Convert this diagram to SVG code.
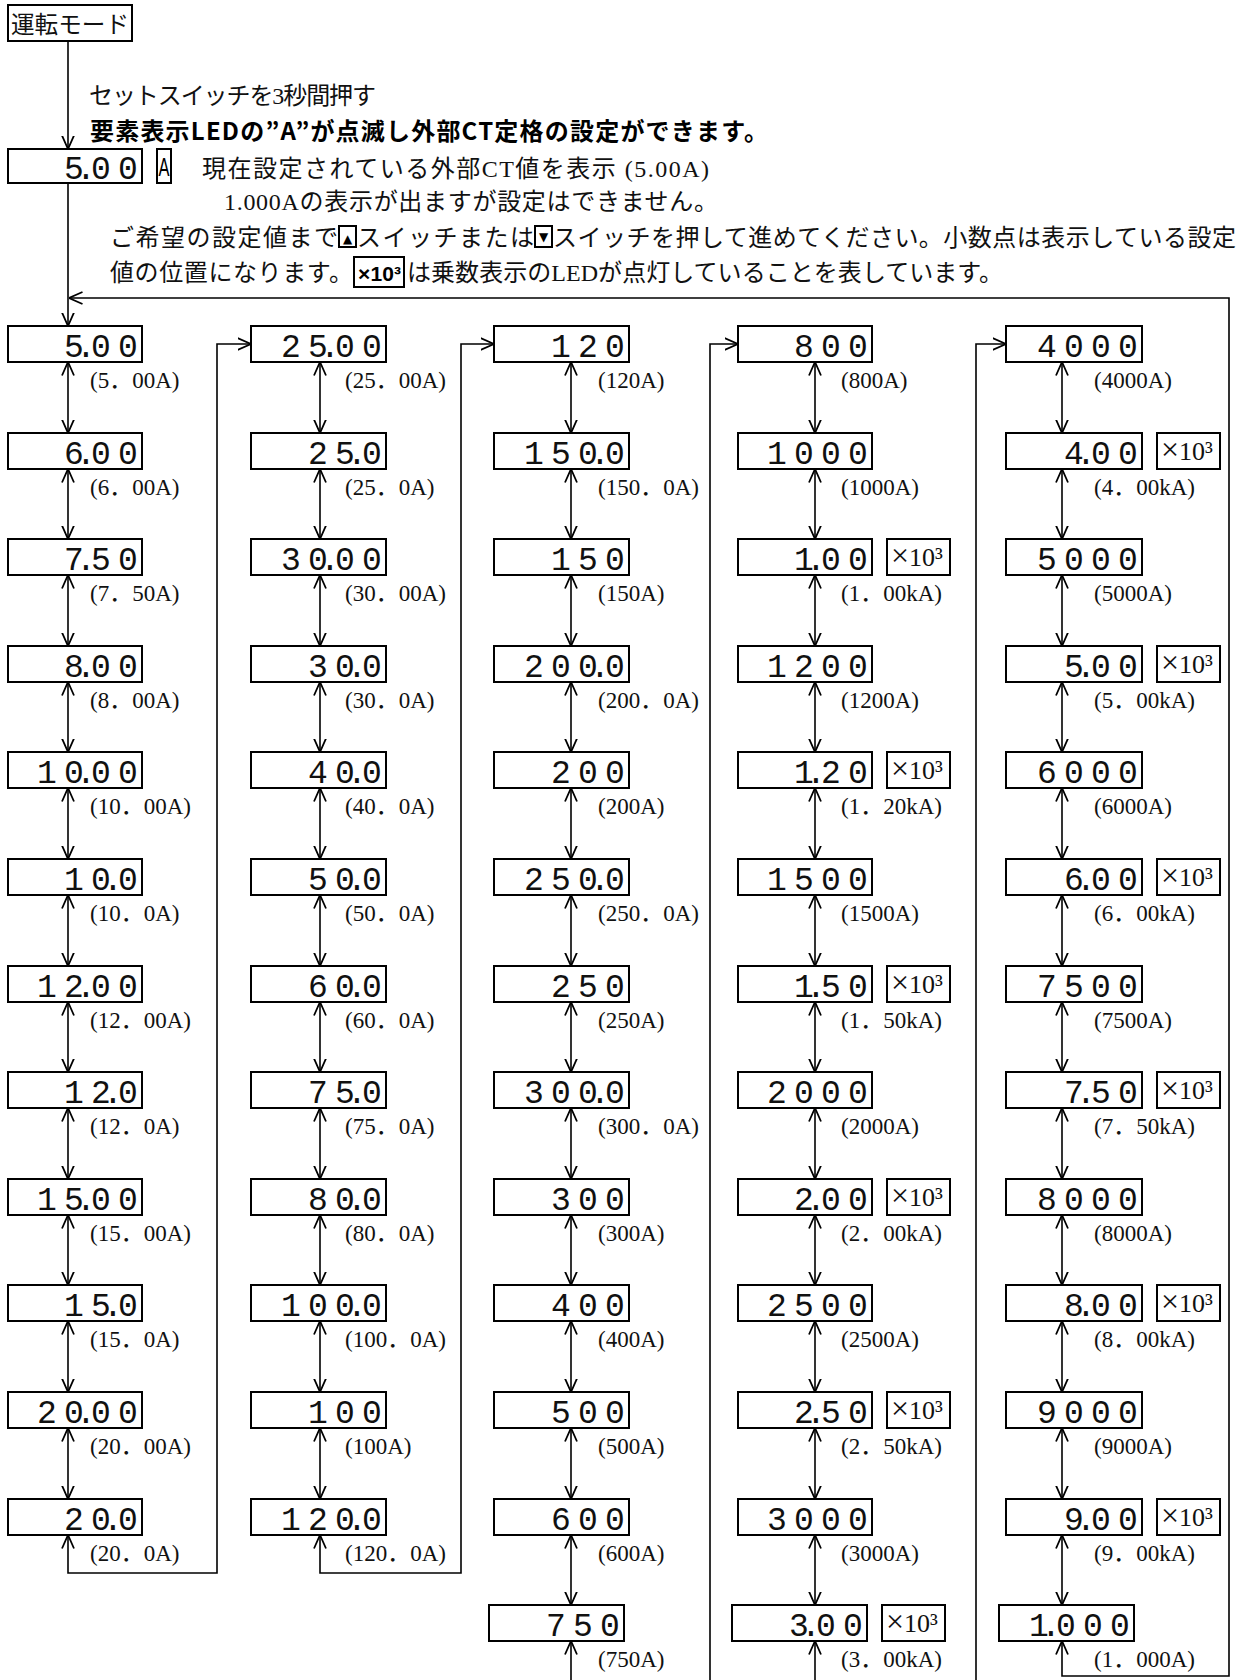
<svg xmlns="http://www.w3.org/2000/svg" width="1252" height="1680" viewBox="0 0 1252 1680">
<style>
.box{fill:#fff;stroke:#000;stroke-width:2}
.seg{font-family:"Liberation Mono","DejaVu Sans Mono",monospace;font-size:33px;text-anchor:middle;fill:#111}
.lbl{font-family:"Liberation Serif","Noto Sans CJK JP",serif;font-size:23px;fill:#111}
.mul{font-family:"Liberation Serif","Noto Sans CJK JP",serif;font-size:26px;fill:#111}
.x{font-size:32px}
.hdr{font-family:"Liberation Serif","Noto Sans CJK JP",serif;font-size:24px;fill:#111}
.bold{font-family:"Noto Sans CJK JP","Liberation Sans",sans-serif;font-weight:bold;font-size:24px;fill:#000}
.conn{fill:none;stroke:#000;stroke-width:1.6}
.arr{fill:none;stroke:#000;stroke-width:1.6;marker-start:url(#ah);marker-end:url(#ah)}
.end{marker-end:url(#ah)}
.start{marker-start:url(#ah)}
</style>
<defs>
<marker id="ah" viewBox="0 0 14 14" refX="13.5" refY="7" markerWidth="14" markerHeight="14" markerUnits="userSpaceOnUse" orient="auto-start-reverse">
<path d="M0,1 L13.5,7 L0,13" fill="none" stroke="#000" stroke-width="1.8"/>
</marker>
</defs>
<rect width="1252" height="1680" fill="#fff"/>

<g id="header">
<g id="n-run"><rect class="box" x="8" y="5" width="124" height="36"/><text class="hdr" x="11" y="33" textLength="118" lengthAdjust="spacingAndGlyphs">運転モード</text></g>
<text class="hdr" x="89" y="104" textLength="287">セットスイッチを3秒間押す</text>
<text class="bold" x="90" y="140" textLength="678">要素表示LEDの”A”が点滅し外部CT定格の設定ができます。</text>
<g id="n-set"><rect class="box" x="8" y="149" width="134" height="34"/><text class="seg" x="74 86 101 128" y="179">5.00</text>
<rect class="box" x="157" y="149" width="14" height="34"/><text x="164" y="176" font-family="Liberation Sans,sans-serif" font-size="26" text-anchor="middle" textLength="11" lengthAdjust="spacingAndGlyphs">A</text></g>
<text class="hdr" x="202" y="177" textLength="507">現在設定されている外部CT値を表示 (5.00A)</text>
<text class="hdr" x="224" y="210" textLength="494">1.000Aの表示が出ますが設定はできません。</text>
<text class="hdr" x="110" y="246" textLength="228">ご希望の設定値まで</text>
<rect class="box" x="339" y="226" width="17" height="21" stroke-width="1.5"/><text x="347.5" y="243" font-family="DejaVu Sans,sans-serif" font-size="12" text-anchor="middle">▲</text>
<text class="hdr" x="357" y="246" textLength="177">スイッチまたは</text>
<rect class="box" x="535" y="226" width="17" height="21" stroke-width="1.5"/><text x="543.5" y="241" font-family="DejaVu Sans,sans-serif" font-size="12" text-anchor="middle">▼</text>
<text class="hdr" x="553" y="246" textLength="683">スイッチを押して進めてください。小数点は表示している設定</text>
<text class="hdr" x="110" y="281" textLength="243">値の位置になります。</text>
<rect class="box" x="354" y="257" width="50" height="30" stroke-width="2.5"/><text x="358" y="281" font-family="Liberation Sans,sans-serif" font-weight="bold" font-size="21" textLength="43">×10³</text>
<text class="hdr" x="407" y="281" textLength="596">は乗数表示のLEDが点灯していることを表しています。</text>
</g>

<g id="connectors">
<path class="conn end" d="M68,41 V149"/>
<path class="conn end" d="M68,183 V326"/>
<path class="arr" d="M68,1535 V1573 H217 V344 H251"/>
<path class="arr" d="M320,1535 V1573 H461 V344 H494"/>
<path class="conn start" d="M571,1641 V1682"/>
<path class="conn end" d="M710,1682 V344 H738"/>
<path class="conn start" d="M815,1641 V1682"/>
<path class="conn end" d="M976,1682 V344 H1006"/>
<path class="arr" d="M1062,1641 V1676 H1229 V298 H69"/>
<!-- col1 -->
<path class="arr" d="M68,362 V433"/><path class="arr" d="M68,469 V539"/><path class="arr" d="M68,575 V646"/><path class="arr" d="M68,682 V752"/><path class="arr" d="M68,788 V859"/><path class="arr" d="M68,895 V966"/><path class="arr" d="M68,1002 V1072"/><path class="arr" d="M68,1108 V1179"/><path class="arr" d="M68,1215 V1285"/><path class="arr" d="M68,1321 V1392"/><path class="arr" d="M68,1428 V1499"/>
<!-- col2 -->
<path class="arr" d="M320,362 V433"/><path class="arr" d="M320,469 V539"/><path class="arr" d="M320,575 V646"/><path class="arr" d="M320,682 V752"/><path class="arr" d="M320,788 V859"/><path class="arr" d="M320,895 V966"/><path class="arr" d="M320,1002 V1072"/><path class="arr" d="M320,1108 V1179"/><path class="arr" d="M320,1215 V1285"/><path class="arr" d="M320,1321 V1392"/><path class="arr" d="M320,1428 V1499"/>
<!-- col3 -->
<path class="arr" d="M571,362 V433"/><path class="arr" d="M571,469 V539"/><path class="arr" d="M571,575 V646"/><path class="arr" d="M571,682 V752"/><path class="arr" d="M571,788 V859"/><path class="arr" d="M571,895 V966"/><path class="arr" d="M571,1002 V1072"/><path class="arr" d="M571,1108 V1179"/><path class="arr" d="M571,1215 V1285"/><path class="arr" d="M571,1321 V1392"/><path class="arr" d="M571,1428 V1499"/><path class="arr" d="M571,1535 V1605"/>
<!-- col4 -->
<path class="arr" d="M815,362 V433"/><path class="arr" d="M815,469 V539"/><path class="arr" d="M815,575 V646"/><path class="arr" d="M815,682 V752"/><path class="arr" d="M815,788 V859"/><path class="arr" d="M815,895 V966"/><path class="arr" d="M815,1002 V1072"/><path class="arr" d="M815,1108 V1179"/><path class="arr" d="M815,1215 V1285"/><path class="arr" d="M815,1321 V1392"/><path class="arr" d="M815,1428 V1499"/><path class="arr" d="M815,1535 V1605"/>
<!-- col5 -->
<path class="arr" d="M1062,362 V433"/><path class="arr" d="M1062,469 V539"/><path class="arr" d="M1062,575 V646"/><path class="arr" d="M1062,682 V752"/><path class="arr" d="M1062,788 V859"/><path class="arr" d="M1062,895 V966"/><path class="arr" d="M1062,1002 V1072"/><path class="arr" d="M1062,1108 V1179"/><path class="arr" d="M1062,1215 V1285"/><path class="arr" d="M1062,1321 V1392"/><path class="arr" d="M1062,1428 V1499"/><path class="arr" d="M1062,1535 V1605"/>
</g>

<!-- column 1 -->
<g id="c1r0"><rect class="box" x="8" y="326" width="134" height="36"/><text class="seg" x="74 86 101 128" y="357">5.00</text><text class="lbl" x="90" y="388">(5．00A)</text></g>
<g id="c1r1"><rect class="box" x="8" y="433" width="134" height="36"/><text class="seg" x="74 86 101 128" y="464">6.00</text><text class="lbl" x="90" y="495">(6．00A)</text></g>
<g id="c1r2"><rect class="box" x="8" y="539" width="134" height="36"/><text class="seg" x="74 86 101 128" y="570">7.50</text><text class="lbl" x="90" y="601">(7．50A)</text></g>
<g id="c1r3"><rect class="box" x="8" y="646" width="134" height="36"/><text class="seg" x="74 86 101 128" y="677">8.00</text><text class="lbl" x="90" y="708">(8．00A)</text></g>
<g id="c1r4"><rect class="box" x="8" y="752" width="134" height="36"/><text class="seg" x="47 74 86 101 128" y="783">10.00</text><text class="lbl" x="90" y="814">(10．00A)</text></g>
<g id="c1r5"><rect class="box" x="8" y="859" width="134" height="36"/><text class="seg" x="74 101 113 128" y="890">10.0</text><text class="lbl" x="90" y="921">(10．0A)</text></g>
<g id="c1r6"><rect class="box" x="8" y="966" width="134" height="36"/><text class="seg" x="47 74 86 101 128" y="997">12.00</text><text class="lbl" x="90" y="1028">(12．00A)</text></g>
<g id="c1r7"><rect class="box" x="8" y="1072" width="134" height="36"/><text class="seg" x="74 101 113 128" y="1103">12.0</text><text class="lbl" x="90" y="1134">(12．0A)</text></g>
<g id="c1r8"><rect class="box" x="8" y="1179" width="134" height="36"/><text class="seg" x="47 74 86 101 128" y="1210">15.00</text><text class="lbl" x="90" y="1241">(15．00A)</text></g>
<g id="c1r9"><rect class="box" x="8" y="1285" width="134" height="36"/><text class="seg" x="74 101 113 128" y="1316">15.0</text><text class="lbl" x="90" y="1347">(15．0A)</text></g>
<g id="c1r10"><rect class="box" x="8" y="1392" width="134" height="36"/><text class="seg" x="47 74 86 101 128" y="1423">20.00</text><text class="lbl" x="90" y="1454">(20．00A)</text></g>
<g id="c1r11"><rect class="box" x="8" y="1499" width="134" height="36"/><text class="seg" x="74 101 113 128" y="1530">20.0</text><text class="lbl" x="90" y="1561">(20．0A)</text></g>

<!-- column 2 -->
<g id="c2r0"><rect class="box" x="251" y="326" width="135" height="36"/><text class="seg" x="291 318 330 345 372" y="357">25.00</text><text class="lbl" x="345" y="388">(25．00A)</text></g>
<g id="c2r1"><rect class="box" x="251" y="433" width="135" height="36"/><text class="seg" x="318 345 357 372" y="464">25.0</text><text class="lbl" x="345" y="495">(25．0A)</text></g>
<g id="c2r2"><rect class="box" x="251" y="539" width="135" height="36"/><text class="seg" x="291 318 330 345 372" y="570">30.00</text><text class="lbl" x="345" y="601">(30．00A)</text></g>
<g id="c2r3"><rect class="box" x="251" y="646" width="135" height="36"/><text class="seg" x="318 345 357 372" y="677">30.0</text><text class="lbl" x="345" y="708">(30．0A)</text></g>
<g id="c2r4"><rect class="box" x="251" y="752" width="135" height="36"/><text class="seg" x="318 345 357 372" y="783">40.0</text><text class="lbl" x="345" y="814">(40．0A)</text></g>
<g id="c2r5"><rect class="box" x="251" y="859" width="135" height="36"/><text class="seg" x="318 345 357 372" y="890">50.0</text><text class="lbl" x="345" y="921">(50．0A)</text></g>
<g id="c2r6"><rect class="box" x="251" y="966" width="135" height="36"/><text class="seg" x="318 345 357 372" y="997">60.0</text><text class="lbl" x="345" y="1028">(60．0A)</text></g>
<g id="c2r7"><rect class="box" x="251" y="1072" width="135" height="36"/><text class="seg" x="318 345 357 372" y="1103">75.0</text><text class="lbl" x="345" y="1134">(75．0A)</text></g>
<g id="c2r8"><rect class="box" x="251" y="1179" width="135" height="36"/><text class="seg" x="318 345 357 372" y="1210">80.0</text><text class="lbl" x="345" y="1241">(80．0A)</text></g>
<g id="c2r9"><rect class="box" x="251" y="1285" width="135" height="36"/><text class="seg" x="291 318 345 357 372" y="1316">100.0</text><text class="lbl" x="345" y="1347">(100．0A)</text></g>
<g id="c2r10"><rect class="box" x="251" y="1392" width="135" height="36"/><text class="seg" x="318 345 372" y="1423">100</text><text class="lbl" x="345" y="1454">(100A)</text></g>
<g id="c2r11"><rect class="box" x="251" y="1499" width="135" height="36"/><text class="seg" x="291 318 345 357 372" y="1530">120.0</text><text class="lbl" x="345" y="1561">(120．0A)</text></g>

<!-- column 3 -->
<g id="c3r0"><rect class="box" x="494" y="326" width="135" height="36"/><text class="seg" x="561 588 615" y="357">120</text><text class="lbl" x="598" y="388">(120A)</text></g>
<g id="c3r1"><rect class="box" x="494" y="433" width="135" height="36"/><text class="seg" x="534 561 588 600 615" y="464">150.0</text><text class="lbl" x="598" y="495">(150．0A)</text></g>
<g id="c3r2"><rect class="box" x="494" y="539" width="135" height="36"/><text class="seg" x="561 588 615" y="570">150</text><text class="lbl" x="598" y="601">(150A)</text></g>
<g id="c3r3"><rect class="box" x="494" y="646" width="135" height="36"/><text class="seg" x="534 561 588 600 615" y="677">200.0</text><text class="lbl" x="598" y="708">(200．0A)</text></g>
<g id="c3r4"><rect class="box" x="494" y="752" width="135" height="36"/><text class="seg" x="561 588 615" y="783">200</text><text class="lbl" x="598" y="814">(200A)</text></g>
<g id="c3r5"><rect class="box" x="494" y="859" width="135" height="36"/><text class="seg" x="534 561 588 600 615" y="890">250.0</text><text class="lbl" x="598" y="921">(250．0A)</text></g>
<g id="c3r6"><rect class="box" x="494" y="966" width="135" height="36"/><text class="seg" x="561 588 615" y="997">250</text><text class="lbl" x="598" y="1028">(250A)</text></g>
<g id="c3r7"><rect class="box" x="494" y="1072" width="135" height="36"/><text class="seg" x="534 561 588 600 615" y="1103">300.0</text><text class="lbl" x="598" y="1134">(300．0A)</text></g>
<g id="c3r8"><rect class="box" x="494" y="1179" width="135" height="36"/><text class="seg" x="561 588 615" y="1210">300</text><text class="lbl" x="598" y="1241">(300A)</text></g>
<g id="c3r9"><rect class="box" x="494" y="1285" width="135" height="36"/><text class="seg" x="561 588 615" y="1316">400</text><text class="lbl" x="598" y="1347">(400A)</text></g>
<g id="c3r10"><rect class="box" x="494" y="1392" width="135" height="36"/><text class="seg" x="561 588 615" y="1423">500</text><text class="lbl" x="598" y="1454">(500A)</text></g>
<g id="c3r11"><rect class="box" x="494" y="1499" width="135" height="36"/><text class="seg" x="561 588 615" y="1530">600</text><text class="lbl" x="598" y="1561">(600A)</text></g>
<g id="c3r12"><rect class="box" x="489" y="1605" width="135" height="36"/><text class="seg" x="556 583 610" y="1636">750</text><text class="lbl" x="598" y="1667">(750A)</text></g>

<!-- column 4 -->
<g id="c4r0"><rect class="box" x="738" y="326" width="134" height="36"/><text class="seg" x="804 831 858" y="357">800</text><text class="lbl" x="841" y="388">(800A)</text></g>
<g id="c4r1"><rect class="box" x="738" y="433" width="134" height="36"/><text class="seg" x="777 804 831 858" y="464">1000</text><text class="lbl" x="841" y="495">(1000A)</text></g>
<g id="c4r2"><rect class="box" x="738" y="539" width="134" height="36"/><text class="seg" x="804 816 831 858" y="570">1.00</text><rect class="box" x="887" y="539" width="63" height="36"/><text class="mul" x="891" y="566"><tspan class="x">×</tspan>10³</text><text class="lbl" x="841" y="601">(1．00kA)</text></g>
<g id="c4r3"><rect class="box" x="738" y="646" width="134" height="36"/><text class="seg" x="777 804 831 858" y="677">1200</text><text class="lbl" x="841" y="708">(1200A)</text></g>
<g id="c4r4"><rect class="box" x="738" y="752" width="134" height="36"/><text class="seg" x="804 816 831 858" y="783">1.20</text><rect class="box" x="887" y="752" width="63" height="36"/><text class="mul" x="891" y="779"><tspan class="x">×</tspan>10³</text><text class="lbl" x="841" y="814">(1．20kA)</text></g>
<g id="c4r5"><rect class="box" x="738" y="859" width="134" height="36"/><text class="seg" x="777 804 831 858" y="890">1500</text><text class="lbl" x="841" y="921">(1500A)</text></g>
<g id="c4r6"><rect class="box" x="738" y="966" width="134" height="36"/><text class="seg" x="804 816 831 858" y="997">1.50</text><rect class="box" x="887" y="966" width="63" height="36"/><text class="mul" x="891" y="993"><tspan class="x">×</tspan>10³</text><text class="lbl" x="841" y="1028">(1．50kA)</text></g>
<g id="c4r7"><rect class="box" x="738" y="1072" width="134" height="36"/><text class="seg" x="777 804 831 858" y="1103">2000</text><text class="lbl" x="841" y="1134">(2000A)</text></g>
<g id="c4r8"><rect class="box" x="738" y="1179" width="134" height="36"/><text class="seg" x="804 816 831 858" y="1210">2.00</text><rect class="box" x="887" y="1179" width="63" height="36"/><text class="mul" x="891" y="1206"><tspan class="x">×</tspan>10³</text><text class="lbl" x="841" y="1241">(2．00kA)</text></g>
<g id="c4r9"><rect class="box" x="738" y="1285" width="134" height="36"/><text class="seg" x="777 804 831 858" y="1316">2500</text><text class="lbl" x="841" y="1347">(2500A)</text></g>
<g id="c4r10"><rect class="box" x="738" y="1392" width="134" height="36"/><text class="seg" x="804 816 831 858" y="1423">2.50</text><rect class="box" x="887" y="1392" width="63" height="36"/><text class="mul" x="891" y="1419"><tspan class="x">×</tspan>10³</text><text class="lbl" x="841" y="1454">(2．50kA)</text></g>
<g id="c4r11"><rect class="box" x="738" y="1499" width="134" height="36"/><text class="seg" x="777 804 831 858" y="1530">3000</text><text class="lbl" x="841" y="1561">(3000A)</text></g>
<g id="c4r12"><rect class="box" x="732" y="1605" width="135" height="36"/><text class="seg" x="799 811 826 853" y="1636">3.00</text><rect class="box" x="882" y="1605" width="63" height="36"/><text class="mul" x="886" y="1632"><tspan class="x">×</tspan>10³</text><text class="lbl" x="841" y="1667">(3．00kA)</text></g>

<!-- column 5 -->
<g id="c5r0"><rect class="box" x="1006" y="326" width="136" height="36"/><text class="seg" x="1047 1074 1101 1128" y="357">4000</text><text class="lbl" x="1094" y="388">(4000A)</text></g>
<g id="c5r1"><rect class="box" x="1006" y="433" width="136" height="36"/><text class="seg" x="1074 1086 1101 1128" y="464">4.00</text><rect class="box" x="1157" y="433" width="63" height="36"/><text class="mul" x="1161" y="460"><tspan class="x">×</tspan>10³</text><text class="lbl" x="1094" y="495">(4．00kA)</text></g>
<g id="c5r2"><rect class="box" x="1006" y="539" width="136" height="36"/><text class="seg" x="1047 1074 1101 1128" y="570">5000</text><text class="lbl" x="1094" y="601">(5000A)</text></g>
<g id="c5r3"><rect class="box" x="1006" y="646" width="136" height="36"/><text class="seg" x="1074 1086 1101 1128" y="677">5.00</text><rect class="box" x="1157" y="646" width="63" height="36"/><text class="mul" x="1161" y="673"><tspan class="x">×</tspan>10³</text><text class="lbl" x="1094" y="708">(5．00kA)</text></g>
<g id="c5r4"><rect class="box" x="1006" y="752" width="136" height="36"/><text class="seg" x="1047 1074 1101 1128" y="783">6000</text><text class="lbl" x="1094" y="814">(6000A)</text></g>
<g id="c5r5"><rect class="box" x="1006" y="859" width="136" height="36"/><text class="seg" x="1074 1086 1101 1128" y="890">6.00</text><rect class="box" x="1157" y="859" width="63" height="36"/><text class="mul" x="1161" y="886"><tspan class="x">×</tspan>10³</text><text class="lbl" x="1094" y="921">(6．00kA)</text></g>
<g id="c5r6"><rect class="box" x="1006" y="966" width="136" height="36"/><text class="seg" x="1047 1074 1101 1128" y="997">7500</text><text class="lbl" x="1094" y="1028">(7500A)</text></g>
<g id="c5r7"><rect class="box" x="1006" y="1072" width="136" height="36"/><text class="seg" x="1074 1086 1101 1128" y="1103">7.50</text><rect class="box" x="1157" y="1072" width="63" height="36"/><text class="mul" x="1161" y="1099"><tspan class="x">×</tspan>10³</text><text class="lbl" x="1094" y="1134">(7．50kA)</text></g>
<g id="c5r8"><rect class="box" x="1006" y="1179" width="136" height="36"/><text class="seg" x="1047 1074 1101 1128" y="1210">8000</text><text class="lbl" x="1094" y="1241">(8000A)</text></g>
<g id="c5r9"><rect class="box" x="1006" y="1285" width="136" height="36"/><text class="seg" x="1074 1086 1101 1128" y="1316">8.00</text><rect class="box" x="1157" y="1285" width="63" height="36"/><text class="mul" x="1161" y="1312"><tspan class="x">×</tspan>10³</text><text class="lbl" x="1094" y="1347">(8．00kA)</text></g>
<g id="c5r10"><rect class="box" x="1006" y="1392" width="136" height="36"/><text class="seg" x="1047 1074 1101 1128" y="1423">9000</text><text class="lbl" x="1094" y="1454">(9000A)</text></g>
<g id="c5r11"><rect class="box" x="1006" y="1499" width="136" height="36"/><text class="seg" x="1074 1086 1101 1128" y="1530">9.00</text><rect class="box" x="1157" y="1499" width="63" height="36"/><text class="mul" x="1161" y="1526"><tspan class="x">×</tspan>10³</text><text class="lbl" x="1094" y="1561">(9．00kA)</text></g>
<g id="c5r12"><rect class="box" x="999" y="1605" width="135" height="36"/><text class="seg" x="1039 1051 1066 1093 1120" y="1636">1.000</text><text class="lbl" x="1094" y="1667">(1．000A)</text></g>
</svg>
